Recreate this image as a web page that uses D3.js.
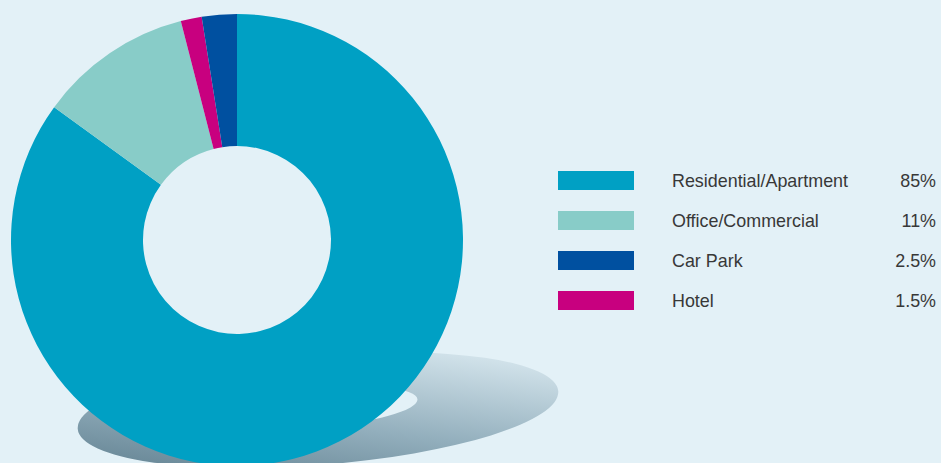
<!DOCTYPE html>
<html>
<head>
<meta charset="utf-8">
<script src="https://cdn.jsdelivr.net/npm/d3@7"></script>
<style>
  html, body { margin: 0; padding: 0; background: #e3f1f7; }
  svg { display: block; }
</style>
</head>
<body>
<div id="chart"></div>
<script>
// categories in legend order
var categories = ["Residential/Apartment", "Office/Commercial", "Car Park", "Hotel"];
var shares = [85, 11, 2.5, 1.5];
var shareLabels = ["85%", "11%", "2.5%", "1.5%"];
var colours = ["#00a0c4", "#88ccc8", "#0050a0", "#c8007f"];
// order the slices run clockwise from 12 o'clock
var sliceOrder = ["Residential/Apartment", "Office/Commercial", "Hotel", "Car Park"];

var width = 941, height = 463;

var svg = d3.select("#chart").append("svg")
  .attr("width", width).attr("height", height);

svg.append("rect").attr("width", width).attr("height", height).attr("fill", "#e3f1f7");

// shadow gradient
var defs = svg.append("defs");
var grad = defs.append("linearGradient").attr("id", "shadowGrad")
  .attr("x1", "0%").attr("y1", "100%").attr("x2", "95%").attr("y2", "0%");
grad.append("stop").attr("offset", "0%").attr("stop-color", "#5a7a8a");
grad.append("stop").attr("offset", "45%").attr("stop-color", "#93afbd");
grad.append("stop").attr("offset", "100%").attr("stop-color", "#e3f1f7");

// shadow under the donut
var shadow = svg.append("g").attr("transform", "translate(318,410) rotate(-4.5)");
shadow.append("ellipse").attr("rx", 241).attr("ry", 55).attr("fill", "url(#shadowGrad)");
shadow.append("ellipse").attr("cx", 0).attr("cy", -3).attr("rx", 100).attr("ry", 20).attr("fill", "#e3f1f7");

// donut
var cx = 237, cy = 240, outerR = 226, innerR = 94;

var pie = d3.pie().sort(null).value(function(d) { return d.value; });
var arc = d3.arc().innerRadius(innerR).outerRadius(outerR);

var sliceData = sliceOrder.map(function(name) {
  var i = categories.indexOf(name);
  return { name: name, value: shares[i], colour: colours[i] };
});

svg.append("g").attr("transform", "translate(" + cx + "," + cy + ")")
  .selectAll("path")
  .data(pie(sliceData))
  .enter().append("path")
  .attr("d", arc)
  .attr("fill", function(d) { return d.data.colour; });

// legend
var rowY = d3.scalePoint().domain(categories).range([171, 291]);

var legend = svg.append("g").attr("font-family", "'Liberation Sans', Arial, sans-serif")
  .attr("font-size", "17.9px").attr("fill", "#383838");

var rows = legend.selectAll("g").data(categories).enter().append("g")
  .attr("transform", function(d) { return "translate(0," + rowY(d) + ")"; });

rows.append("rect").attr("x", 558).attr("y", 0).attr("width", 76).attr("height", 19)
  .attr("fill", function(d, i) { return colours[i]; });

rows.append("text").attr("x", 672).attr("y", 16).text(function(d) { return d; });

rows.append("text").attr("x", 936).attr("y", 16).attr("text-anchor", "end")
  .text(function(d, i) { return shareLabels[i]; });
</script>
</body>
</html>
